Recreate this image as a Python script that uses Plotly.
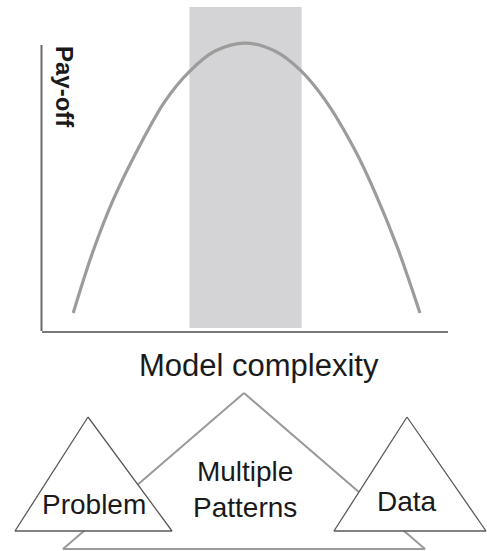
import plotly.graph_objects as go

# Pay-off curve (model complexity 0-10, pay-off 0-10)
complexity = [0.78, 1.27, 1.76, 2.37, 3.04, 3.65, 4.27, 5.01, 5.74, 6.36, 6.97, 7.71, 8.20, 8.75, 9.31]
payoff = [0.63, 2.80, 4.58, 6.36, 8.04, 9.09, 9.79, 10.07, 9.79, 9.13, 8.09, 6.33, 4.86, 2.94, 0.63]

# shaded "sweet spot" band
band_x = [3.64, 6.40]

# lower diagram: triangles (x across, y up)
big_tri_x = [244, 63, 425, 244]
big_tri_y = [158, 2, 2, 158]
problem_tri_x = [88, 15, 172, 88]
problem_tri_y = [134, 20, 20, 134]
data_tri_x = [407, 334, 486, 407]
data_tri_y = [134, 20, 20, 134]

W, H = 487, 551
FONT = "Liberation Sans, Arial, sans-serif"

fig = go.Figure()

fig.add_trace(go.Scatter(
    x=complexity, y=payoff, mode="lines", line=dict(color="#9c9c9c", width=3.2, shape="spline"),
    hoverinfo="skip", showlegend=False,
))

for xs, ys, col, w in [(big_tri_x, big_tri_y, "#9a9a9a", 2),
                       (problem_tri_x, problem_tri_y, "#5a5a5a", 1.3),
                       (data_tri_x, data_tri_y, "#5a5a5a", 1.3)]:
    fig.add_trace(go.Scatter(
        x=xs, y=ys, xaxis="x2", yaxis="y2", mode="lines", fill="toself", fillcolor="white",
        line=dict(color=col, width=w), hoverinfo="skip", showlegend=False,
    ))

fig.add_vrect(x0=band_x[0], x1=band_x[1], y0=0.009, y1=1, fillcolor="#d4d4d6", line_width=0, layer="below")

# y axis line (shorter than the plot area)
fig.add_shape(type="line", xref="x domain", yref="y", x0=0, x1=0, y0=0, y1=10,
              line=dict(color="#6a6a6a", width=2))

ann = dict(showarrow=False, xref="paper", yref="paper", xanchor="center", yanchor="middle")
txt = dict(family=FONT, color="#1a1a1a", size=28)
fig.add_annotation(text="<b>Pay-off</b>", x=65 / W, y=(H - 87) / H, textangle=90,
                   font={**txt, "size": 24}, **ann)
fig.add_annotation(text="Model complexity", x=259 / W, y=(H - 365) / H, font={**txt, "size": 31}, **ann)
fig.add_annotation(text="Multiple<br>Patterns", x=245 / W, y=(H - 489) / H, font=txt, **ann)
fig.add_annotation(text="Problem", x=94 / W, y=(H - 504) / H, font=txt, **ann)
fig.add_annotation(text="Data", x=407 / W, y=(H - 501) / H, font=txt, **ann)

fig.update_layout(
    width=W, height=H, margin=dict(l=0, r=0, t=0, b=0),
    paper_bgcolor="white", plot_bgcolor="rgba(0,0,0,0)",
    xaxis=dict(domain=[41.5 / W, 448 / W], range=[0, 10], showgrid=False, zeroline=False,
               showticklabels=False, ticks="", showline=True, linecolor="#7a7a7a", linewidth=2),
    yaxis=dict(domain=[(H - 331) / H, (H - 7) / H], range=[0, 11.33], showgrid=False, zeroline=False,
               showticklabels=False, ticks="", showline=False),
    xaxis2=dict(domain=[0, 1], range=[0, 487], visible=False, anchor="y2"),
    yaxis2=dict(domain=[0, 171 / H], range=[0, 171], visible=False, anchor="x2"),
)

fig.write_html("out.html", config={"displayModeBar": False},
               post_script="document.body.style.margin='0';")
